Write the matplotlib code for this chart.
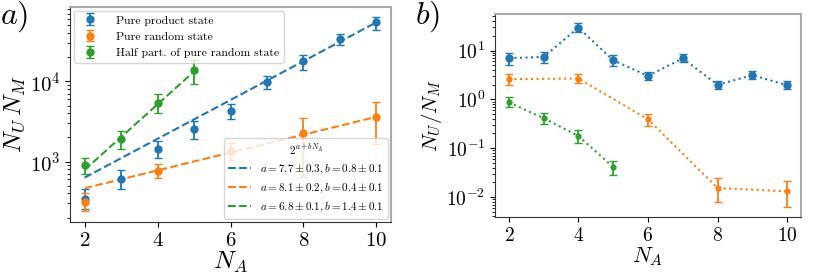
"""Scaling of N_U N_M and N_U / N_M with subsystem size N_A."""

import matplotlib

matplotlib.use("Agg")
import matplotlib.pyplot as plt
import numpy as np

plt.rcParams["font.family"] = "serif"
plt.rcParams["font.serif"] = ["cmr10"]
plt.rcParams["mathtext.fontset"] = "cm"
plt.rcParams["axes.formatter.use_mathtext"] = True

BLUE = "#1f77b4"
ORANGE = "#ff7f0e"
GREEN = "#2ca02c"

# ---- panel a) N_U * N_M ----
prod_n = [2, 3, 4, 5, 6, 7, 8, 9, 10]
prod_prod = [338, 600, 1430, 2530, 4300, 9900, 17800, 34200, 54600]
prod_prod_lo = [255, 455, 1120, 1930, 3400, 8000, 13900, 28500, 44000]
prod_prod_hi = [450, 790, 1800, 3200, 5300, 11800, 21200, 39500, 63000]

rand_n = [2, 4, 6, 8, 10]
rand_prod = [316, 772, 1372, 2300, 3650]
rand_prod_lo = [240, 620, 1050, 650, 1650]
rand_prod_hi = [400, 930, 1720, 3450, 5600]

half_n = [2, 3, 4, 5]
half_prod = [908, 1920, 5360, 14000]
half_prod_lo = [700, 1450, 4000, 9300]
half_prod_hi = [1110, 2400, 6900, 18500]

# fit parameters of 2^(a + b N_A)
fit_a = [7.69, 8.12, 6.90]
fit_b = [0.805, 0.37, 1.36]
fit_labels = [
    r"$a = 7.7 \pm 0.3, b = 0.8 \pm 0.1$",
    r"$a = 8.1 \pm 0.2, b = 0.4 \pm 0.1$",
    r"$a = 6.8 \pm 0.1, b = 1.4 \pm 0.1$",
]

# ---- panel b) N_U / N_M ----
prod_ratio = [6.97, 7.4, 29.5, 6.3, 3.03, 6.9, 1.99, 3.13, 1.95]
prod_ratio_lo = [5.0, 5.6, 23.5, 4.9, 2.5, 5.8, 1.62, 2.6, 1.6]
prod_ratio_hi = [9.0, 9.3, 37.0, 8.0, 3.7, 8.4, 2.4, 3.8, 2.4]

rand_ratio = [2.6, 2.67, 0.39, 0.0153, 0.0131]
rand_ratio_lo = [2.0, 2.15, 0.29, 0.0078, 0.0062]
rand_ratio_hi = [3.3, 3.3, 0.50, 0.024, 0.021]

half_ratio = [0.87, 0.41, 0.178, 0.041]
half_ratio_lo = [0.69, 0.32, 0.128, 0.028]
half_ratio_hi = [1.1, 0.52, 0.235, 0.055]

LEGEND_NAMES = [
    "Pure product state",
    "Pure random state",
    "Half part. of pure random state",
]


def _asym(values, lows, highs):
    values = np.asarray(values)
    return [values - np.asarray(lows), np.asarray(highs) - values]


def _style_spines(axis):
    for side in ("top", "right"):
        axis.spines[side].set_color("#aaaaaa")
        axis.spines[side].set_linewidth(1.5)
    for side in ("left", "bottom"):
        axis.spines[side].set_color("#333333")


figure = plt.figure(figsize=(8.3, 2.79), dpi=100)
ax_a = figure.add_axes([70 / 830, 1 - 222 / 279, 321 / 830, 215 / 279])
ax_b = figure.add_axes([495 / 830, 1 - 217 / 279, 306 / 830, 203 / 279])

# panel a
groups = [
    (prod_n, prod_prod, prod_prod_lo, prod_prod_hi, BLUE),
    (rand_n, rand_prod, rand_prod_lo, rand_prod_hi, ORANGE),
    (half_n, half_prod, half_prod_lo, half_prod_hi, GREEN),
]
data_handles = []
for (n, val, lo, hi, color), name in zip(groups, LEGEND_NAMES):
    h = ax_a.errorbar(n, val, yerr=_asym(val, lo, hi), fmt="o", color=color,
                      ms=5, capsize=3, elinewidth=1.3, label=name)
    data_handles.append(h)

fit_handles = []
for (n, _, _, _, color), a, b, label in zip(groups, fit_a, fit_b, fit_labels):
    n_arr = np.asarray(n, dtype=float)
    (line,) = ax_a.plot(n_arr, 2.0 ** (a + b * n_arr), "--", color=color,
                        lw=1.5, label=label)
    fit_handles.append(line)

ax_a.set_yscale("log")
ax_a.set_ylim(176, 8.5e4)
ax_a.set_xticks([2, 4, 6, 8, 10])
ax_a.tick_params(labelsize=15)
ax_a.set_xlabel(r"$N_A$", fontsize=18, labelpad=0)
ax_a.set_ylabel(r"$N_U\,N_M$", fontsize=18, labelpad=2)
_style_spines(ax_a)

leg1 = ax_a.legend(handles=data_handles, loc="upper left", fontsize=8.5,
                   borderaxespad=0.3, handletextpad=1.2)
ax_a.add_artist(leg1)
ax_a.legend(handles=fit_handles, loc="lower right", fontsize=8,
            title=r"$2^{a+bN_A}$", title_fontsize=8, borderaxespad=0.3)

# panel b
ratio_groups = [
    (prod_n, prod_ratio, prod_ratio_lo, prod_ratio_hi, BLUE, 5),
    (rand_n, rand_ratio, rand_ratio_lo, rand_ratio_hi, ORANGE, 3.5),
    (half_n, half_ratio, half_ratio_lo, half_ratio_hi, GREEN, 3.5),
]
for n, val, lo, hi, color, ms in ratio_groups:
    ax_b.errorbar(n, val, yerr=_asym(val, lo, hi), fmt="o:", color=color,
                  ms=ms, capsize=3, elinewidth=1.3, ecolor=color, lw=1.5)

ax_b.set_yscale("log")
ax_b.set_ylim(0.0039, 56)
ax_b.set_xticks([2, 4, 6, 8, 10])
ax_b.tick_params(labelsize=14)
ax_b.set_xlabel(r"$N_A$", fontsize=16, labelpad=0)
ax_b.set_ylabel(r"$N_U/N_M$", fontsize=15, labelpad=2)
_style_spines(ax_b)

figure.text(0.0, 1.0, r"$a)$", fontsize=23, ha="left", va="top")
figure.text(415 / 830, 1.0, r"$b)$", fontsize=23, ha="left", va="top")

figure.savefig("out.png", dpi=100)
plt.close(figure)
